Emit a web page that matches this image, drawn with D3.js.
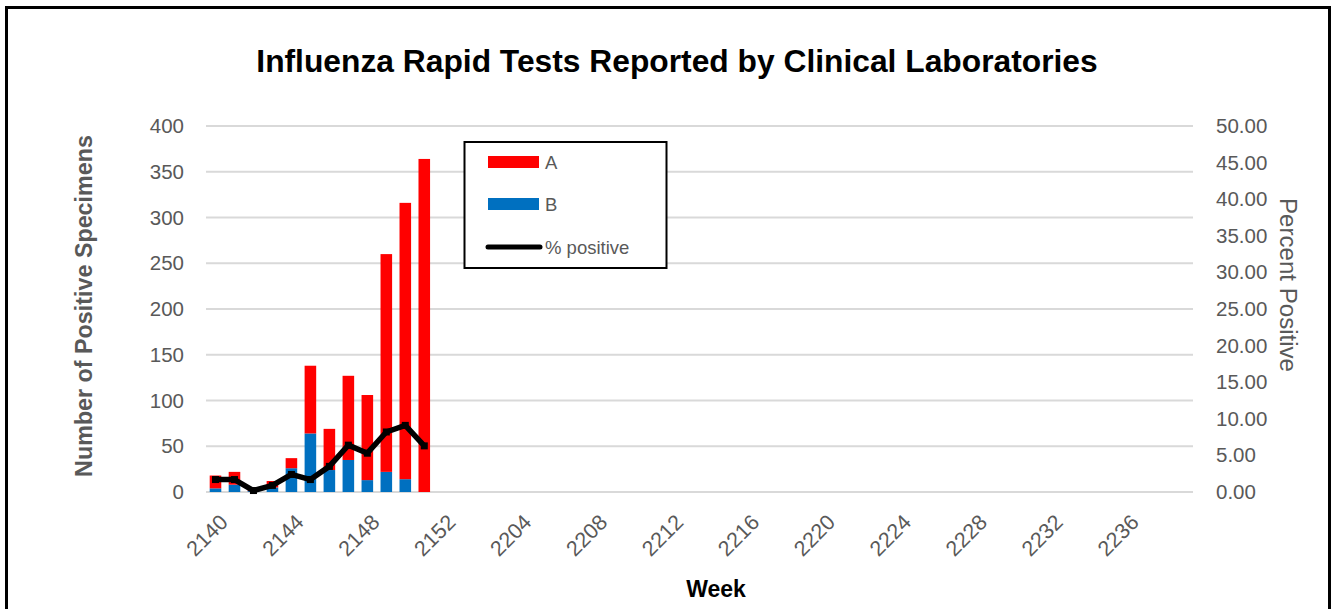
<!DOCTYPE html>
<html>
<head>
<meta charset="utf-8">
<script src="https://cdn.jsdelivr.net/npm/d3@7"></script>
<style>
  html, body { margin: 0; padding: 0; background: #fff; }
  svg { display: block; }
  text { font-family: "Liberation Sans", Arial, sans-serif; }
</style>
</head>
<body>
<svg id="chart" width="1333" height="609"></svg>
<script>
// ---- data ----
const weeks = [2140,2141,2142,2143,2144,2145,2146,2147,2148,2149,2150,2151,2152,
  2201,2202,2203,2204,2205,2206,2207,2208,2209,2210,2211,2212,2213,2214,2215,2216,
  2217,2218,2219,2220,2221,2222,2223,2224,2225,2226,2227,2228,2229,2230,2231,2232,
  2233,2234,2235,2236,2237,2238,2239];
const fluA = [14,14,2,7,11,74,45,92,93,238,302,364];
const fluB = [4,8,1,5,26,64,24,35,13,22,14,0];
const pctPositive = [1.7,1.7,0.2,0.9,2.4,1.7,3.5,6.4,5.3,8.2,9.1,6.3];
const leftTicks = [0,50,100,150,200,250,300,350,400];
const rightTicks = [0,5,10,15,20,25,30,35,40,45,50];
const tickWeeks = [2140,2144,2148,2152,2204,2208,2212,2216,2220,2224,2228,2232,2236];
const seriesNames = ["A","B","% positive"];
const colors = {A:"#FF0000", B:"#0070C0", line:"#000000"};

// ---- layout ----
const svg = d3.select("#chart");
const plot = {left:206, right:1193, top:126, bottom:492};
const gray = "#595959";

svg.append("rect").attr("x",6.5).attr("y",7.5).attr("width",1323).attr("height",640)
  .attr("fill","#fff").attr("stroke","#000").attr("stroke-width",3);

const x = d3.scaleBand().domain(weeks).range([plot.left, plot.right])
  .paddingInner(0.39).paddingOuter(0.195);
const yL = d3.scaleLinear().domain([0,400]).range([plot.bottom, plot.top]);
const yR = d3.scaleLinear().domain([0,50]).range([plot.bottom, plot.top]);

function fitWidth(sel, target) {
  const w = sel.node().getComputedTextLength();
  const fs = parseFloat(sel.attr("font-size"));
  sel.attr("font-size", fs * target / w);
}

// gridlines
svg.append("g").selectAll("line").data(leftTicks).join("line")
  .attr("x1", plot.left).attr("x2", plot.right)
  .attr("y1", d => yL(d)).attr("y2", d => yL(d))
  .attr("stroke", "#d9d9d9").attr("stroke-width", 2);

// left axis
const axL = svg.append("g").attr("transform", `translate(${plot.left},0)`)
  .call(d3.axisLeft(yL).tickValues(leftTicks).tickSize(0).tickPadding(22).tickFormat(d3.format("d")));
axL.select(".domain").remove();
axL.selectAll("text").attr("font-size", 20.5).attr("fill", gray)
  .attr("font-family", "Liberation Sans, Arial, sans-serif");

// right axis
const axR = svg.append("g").attr("transform", `translate(${plot.right},0)`)
  .call(d3.axisRight(yR).tickValues(rightTicks).tickSize(0).tickPadding(23).tickFormat(d3.format(".2f")));
axR.select(".domain").remove();
axR.selectAll("text").attr("font-size", 20.5).attr("fill", gray)
  .attr("font-family", "Liberation Sans, Arial, sans-serif");

// x axis labels
const xLabels = svg.append("g");
tickWeeks.forEach(w => {
  const cx = x(w) + x.bandwidth()/2;
  xLabels.append("text")
    .attr("transform", `translate(${cx + 3},${513}) rotate(-45)`)
    .attr("text-anchor", "end").attr("dy", "0.7em")
    .attr("font-size", 21.5).attr("fill", gray)
    .text(w);
});

// stacked bars
const stackData = fluA.map((a,i) => ({week: weeks[i], A: a, B: fluB[i]}));
const stacked = d3.stack().keys(["B","A"])(stackData);
svg.append("g").selectAll("g").data(stacked).join("g")
  .attr("fill", d => colors[d.key])
  .selectAll("rect").data(d => d).join("rect")
  .attr("x", d => x(d.data.week))
  .attr("width", x.bandwidth())
  .attr("y", d => yL(d[1]))
  .attr("height", d => yL(d[0]) - yL(d[1]));

// percent positive line
const lineData = pctPositive.map((p,i) => ({week: weeks[i], p}));
const line = d3.line().x(d => x(d.week) + x.bandwidth()/2).y(d => yR(d.p));
svg.append("path").datum(lineData).attr("d", line)
  .attr("fill","none").attr("stroke", colors.line).attr("stroke-width", 5.5)
  .attr("stroke-linejoin","round").attr("stroke-linecap","round");
svg.append("g").selectAll("rect").data(lineData).join("rect")
  .attr("x", d => x(d.week) + x.bandwidth()/2 - 3.5)
  .attr("y", d => yR(d.p) - 3.5)
  .attr("width", 7).attr("height", 7).attr("fill", "#000");

// legend
const lg = svg.append("g");
lg.append("rect").attr("x",464.5).attr("y",142).attr("width",202).attr("height",126)
  .attr("fill","#fff").attr("stroke","#000").attr("stroke-width",2);
const legY = [162, 204, 247];
lg.append("rect").attr("x",488).attr("y",156).attr("width",51).attr("height",12).attr("fill",colors.A);
lg.append("rect").attr("x",488).attr("y",198).attr("width",51).attr("height",12).attr("fill",colors.B);
lg.append("line").attr("x1",488).attr("x2",540).attr("y1",247).attr("y2",247)
  .attr("stroke","#000").attr("stroke-width",5).attr("stroke-linecap","round");
seriesNames.forEach((n,i) => {
  lg.append("text").attr("x",545).attr("y",legY[i]).attr("dy","0.36em")
    .attr("font-size",18.5).attr("fill",gray).text(n);
});

// titles
const title = svg.append("text").attr("x",677).attr("y",72).attr("text-anchor","middle")
  .attr("font-size",28).attr("font-weight","bold").attr("fill","#000")
  .text("Influenza Rapid Tests Reported by Clinical Laboratories");
fitWidth(title, 842);

svg.append("text").attr("x",716).attr("y",597).attr("text-anchor","middle")
  .attr("font-size",23).attr("font-weight","bold").attr("fill","#000").text("Week");

const lt = svg.append("text").attr("transform","translate(92,306) rotate(-90)")
  .attr("text-anchor","middle").attr("font-size",21).attr("font-weight","bold")
  .attr("fill",gray).text("Number of Positive Specimens");
fitWidth(lt, 342);

const rt = svg.append("text").attr("transform","translate(1280,285) rotate(90)")
  .attr("text-anchor","middle").attr("font-size",20).attr("fill",gray)
  .text("Percent Positive");
fitWidth(rt, 174);
</script>
</body>
</html>
